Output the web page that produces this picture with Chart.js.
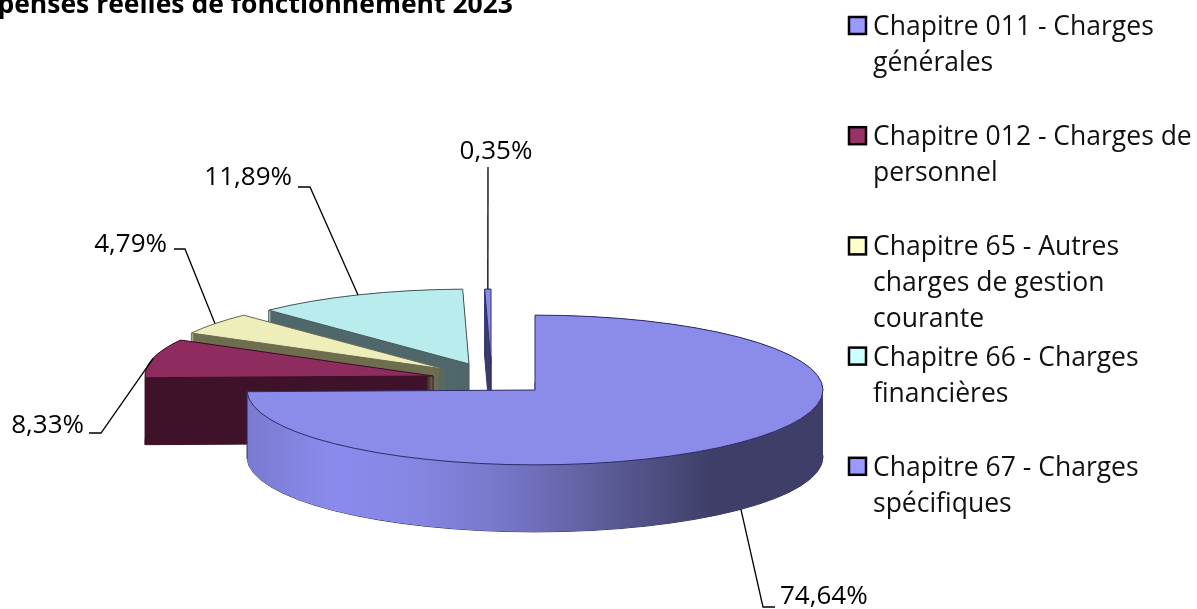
<!DOCTYPE html>
<html lang="fr">
<head>
<meta charset="utf-8">
<title>Dépenses réelles de fonctionnement 2023</title>
<script src="https://cdn.jsdelivr.net/npm/chart.js@4/dist/chart.umd.min.js"></script>
<style>
    html, body { margin: 0; padding: 0; background: #fff; overflow: hidden; }
    canvas { display: block; }
</style>
</head>
<body>
<canvas id="grafico" width="1197" height="609"></canvas>
<script>
const titleText = 'Dépenses réelles de fonctionnement 2023';
const categories = [
    'Chapitre 011 - Charges générales',
    'Chapitre 012 - Charges de personnel',
    'Chapitre 65 - Autres charges de gestion courante',
    'Chapitre 66 - Charges financières',
    'Chapitre 67 - Charges spécifiques'
];
const legendLines = [
    ['Chapitre 011 - Charges', 'générales'],
    ['Chapitre 012 - Charges de', 'personnel'],
    ['Chapitre 65 - Autres', 'charges de gestion', 'courante'],
    ['Chapitre 66 - Charges', 'financières'],
    ['Chapitre 67 - Charges', 'spécifiques']
];
const values = [74.64, 8.33, 4.79, 11.89, 0.35];
const valueLabels = ['74,64%', '8,33%', '4,79%', '11,89%', '0,35%'];

// colours
const faceColors = ['#8b8bea', '#8e2c5f', '#eeeebb', '#b9ecec', '#8b8bea'];
const wallColors = ['#3e3e6c', '#3f132a', '#6e6e50', '#50686b', '#3e3e70'];
const edgeColors = ['#2c2c66', '#3a1026', '#6b6b58', '#44585a', '#2c2c66'];
const swatchColors = ['#9999ff', '#993366', '#ffffcc', '#ccffff', '#9999ff'];

// 3d look
const squash = 0.26;
const depth = 67;
const pullX = [0, -102, -91, -66, -44];
const pullY = [0, -14, -21, -26, -26];
const drawOrder = [4, 3, 2, 1, 0];

// elbow of each leader line, and which side the label sits on
const elbowX = [763, 101, 185, 310, 488];
const elbowY = [607, 433, 249, 187, 167];
const stubEnd = [775, 89, 174, 298, 488];
const labelX = [780, 84, 167, 292, 496];
const labelY = [597, 426, 245, 178, 152];
const labelAlign = ['left', 'right', 'right', 'right', 'center'];

const textFont = '26.5px "Open Sans"';
const labelFont = '26px "Open Sans"';

function slicePath(ctx, arc, i, down) {
    const cx = arc.x + pullX[i];
    const cy = arc.y + pullY[i] + down;
    const r = arc.outerRadius;
    ctx.beginPath();
    ctx.moveTo(cx, cy);
    ctx.ellipse(cx, cy, r, r * squash, 0, arc.startAngle, arc.endAngle);
    ctx.closePath();
}

function edgePoint(arc, i, angle, down) {
    return {
        x: arc.x + pullX[i] + Math.cos(angle) * arc.outerRadius,
        y: arc.y + pullY[i] + down + Math.sin(angle) * arc.outerRadius * squash
    };
}

function wallFill(ctx, arc, i) {
    if (i !== 0) return wallColors[i];
    const g = ctx.createLinearGradient(arc.x - arc.outerRadius, 0, arc.x + arc.outerRadius, 0);
    g.addColorStop(0, '#7a7ad0');
    g.addColorStop(0.15, '#8b8bee');
    g.addColorStop(0.3, '#8585e2');
    g.addColorStop(0.45, '#7676c8');
    g.addColorStop(0.65, '#585890');
    g.addColorStop(0.81, '#3e3e68');
    g.addColorStop(1, '#3e3e68');
    return g;
}

function verticalEdge(ctx, x, y) {
    ctx.beginPath();
    ctx.moveTo(x, y);
    ctx.lineTo(x, y + depth);
    ctx.stroke();
}

function drawSlice(ctx, arc, i) {
    ctx.lineWidth = 1;
    ctx.strokeStyle = edgeColors[i];

    slicePath(ctx, arc, i, depth);
    ctx.stroke();
    ctx.fillStyle = wallFill(ctx, arc, i);
    for (let d = depth; d >= 0; d--) {
        slicePath(ctx, arc, i, d);
        ctx.fill();
    }

    // only the corner on the left shows, the other one is behind the top face
    const a = edgePoint(arc, i, arc.startAngle, 0);
    const b = edgePoint(arc, i, arc.endAngle, 0);
    const left = a.x < b.x ? a : b;
    verticalEdge(ctx, left.x, left.y);
    if (i !== 0) verticalEdge(ctx, arc.x + pullX[i], arc.y + pullY[i]);

    slicePath(ctx, arc, i, 0);
    ctx.fillStyle = faceColors[i];
    ctx.fill();
    ctx.stroke();
}

function drawLeader(ctx, arc, i) {
    const mid = (arc.startAngle + arc.endAngle) / 2;
    // the front slice shows its label line from the bottom of the wall
    const p = edgePoint(arc, i, mid, i === 0 ? depth : 0);
    ctx.beginPath();
    ctx.moveTo(p.x, p.y);
    ctx.lineTo(elbowX[i], elbowY[i]);
    ctx.lineTo(stubEnd[i], elbowY[i]);
    ctx.strokeStyle = '#000';
    ctx.lineWidth = 1.3;
    ctx.stroke();

    ctx.fillStyle = '#000';
    ctx.font = labelFont;
    ctx.textAlign = labelAlign[i];
    ctx.textBaseline = 'middle';
    ctx.fillText(valueLabels[i], labelX[i], labelY[i]);
}

function drawLegend(ctx) {
    ctx.font = textFont;
    ctx.textAlign = 'left';
    ctx.textBaseline = 'alphabetic';
    legendLines.forEach((lines, i) => {
        const top = 17 + i * 110.2;
        ctx.fillStyle = swatchColors[i];
        ctx.fillRect(849, top, 17, 17);
        ctx.strokeStyle = '#000';
        ctx.lineWidth = 2.5;
        ctx.strokeRect(849, top, 17, 17);
        ctx.fillStyle = '#111';
        lines.forEach((line, n) => {
            ctx.fillText(line, 873, top + 18 + n * 36);
        });
    });
}

const pie3d = {
    id: 'pie3d',
    beforeDatasetsDraw(chart) {
        const ctx = chart.ctx;
        const arcs = chart.getDatasetMeta(0).data;
        ctx.save();
        drawOrder.forEach((i) => drawSlice(ctx, arcs[i], i));
        arcs.forEach((arc, i) => drawLeader(ctx, arc, i));
        drawLegend(ctx);
        ctx.fillStyle = '#000';
        ctx.font = 'bold 26.5px "Open Sans"';
        ctx.textAlign = 'right';
        ctx.textBaseline = 'alphabetic';
        ctx.fillText(titleText, 513, 13);
        ctx.restore();
        return false;
    }
};

new Chart(document.getElementById('grafico').getContext('2d'), {
    type: 'pie',
    data: {
        labels: categories,
        datasets: [{
            data: values,
            backgroundColor: faceColors,
            borderColor: edgeColors,
            borderWidth: 0
        }]
    },
    options: {
        responsive: false,
        animation: false,
        radius: 288,
        // puts the pie centre where the picture has it
        layout: { padding: { left: 0, right: 127, top: 171, bottom: 0 } },
        plugins: {
            legend: { display: false },
            title: { display: false },
            tooltip: { enabled: false }
        }
    },
    plugins: [pie3d]
});
</script>
</body>
</html>
